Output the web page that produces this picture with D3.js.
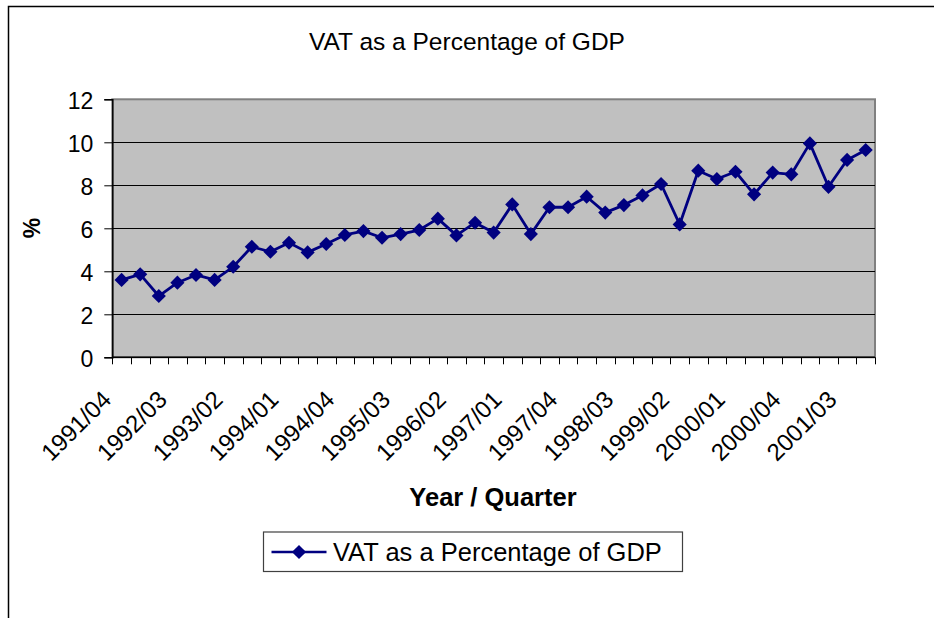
<!DOCTYPE html>
<html>
<head>
<meta charset="utf-8">
<script src="https://cdn.jsdelivr.net/npm/d3@7"></script>
<style>
  html, body { margin: 0; padding: 0; background: #fff; }
  svg { display: block; font-family: Arial, "Liberation Sans", sans-serif; }
</style>
</head>
<body>
<div id="chart"></div>
<script>
// quarters shown on the x axis
const quarters = [
  "1991/04",
  "1992/01", "1992/02", "1992/03", "1992/04",
  "1993/01", "1993/02", "1993/03", "1993/04",
  "1994/01", "1994/02", "1994/03", "1994/04",
  "1995/01", "1995/02", "1995/03", "1995/04",
  "1996/01", "1996/02", "1996/03", "1996/04",
  "1997/01", "1997/02", "1997/03", "1997/04",
  "1998/01", "1998/02", "1998/03", "1998/04",
  "1999/01", "1999/02", "1999/03", "1999/04",
  "2000/01", "2000/02", "2000/03", "2000/04",
  "2001/01", "2001/02", "2001/03", "2001/04"
];

// VAT as % of GDP
const vatPct = [
  3.60, 3.86, 2.85, 3.47, 3.83, 3.60, 4.21, 5.14, 4.91, 5.33,
  4.88, 5.27, 5.69, 5.87, 5.56, 5.73, 5.92, 6.45, 5.67, 6.26,
  5.80, 7.11, 5.73, 6.98, 6.98, 7.47, 6.73, 7.08, 7.53, 8.06,
  6.18, 8.68, 8.29, 8.63, 7.58, 8.59, 8.51, 9.95, 7.93, 9.18,
  9.64
];

// only every third quarter gets a label
const labelledQuarters = [
  "1991/04", "1992/03", "1993/02", "1994/01", "1994/04", "1995/03", "1996/02",
  "1997/01", "1997/04", "1998/03", "1999/02", "2000/01", "2000/04", "2001/03"
];

const yTicks = [0, 2, 4, 6, 8, 10, 12];

const seriesName = "VAT as a Percentage of GDP";
const navy = "#000080";

const width = 934, height = 618;
const plot = { left: 112.3, right: 875, top: 99.3, bottom: 357.3 };

const svg = d3.select("#chart").append("svg")
  .attr("width", width)
  .attr("height", height);

// outer chart frame (only top and left edges are visible)
svg.append("path")
  .attr("d", `M8.5,${height} L8.5,6.5 L${width},6.5`)
  .attr("fill", "none")
  .attr("stroke", "#000")
  .attr("stroke-width", 1.5);

const x = d3.scaleBand().domain(quarters).range([plot.left, plot.right]).padding(0);
const y = d3.scaleLinear().domain([0, 12]).range([plot.bottom, plot.top]);

// plot area
svg.append("rect")
  .attr("x", plot.left).attr("y", plot.top)
  .attr("width", plot.right - plot.left)
  .attr("height", plot.bottom - plot.top)
  .attr("fill", "#c0c0c0")
  .attr("stroke", "#808080")
  .attr("stroke-width", 2);

// gridlines
svg.append("g")
  .selectAll("line")
  .data(yTicks.filter(d => d > 0 && d < 12))
  .join("line")
  .attr("x1", plot.left).attr("x2", plot.right)
  .attr("y1", d => Math.round(y(d)) + 0.5).attr("y2", d => Math.round(y(d)) + 0.5)
  .attr("stroke", "#000")
  .attr("stroke-width", 1);

// y axis
const yAxis = svg.append("g")
  .attr("transform", `translate(${plot.left},0)`)
  .call(d3.axisLeft(y).tickValues(yTicks).tickSize(8).tickPadding(11).tickFormat(d3.format("d")));
yAxis.select(".domain").attr("stroke", "#000").attr("stroke-width", 1.5);
yAxis.selectAll(".tick line").attr("stroke", "#000");
yAxis.selectAll(".tick text")
  .attr("font-size", 23)
  .attr("font-family", "Arial, 'Liberation Sans', sans-serif")
  .attr("fill", "#000")
  .attr("dy", "0.38em");

// x axis: ticks at the category boundaries
const boundaries = quarters.map(q => x(q)).concat([x.range()[1]]);
svg.append("line")
  .attr("x1", plot.left).attr("x2", plot.right)
  .attr("y1", plot.bottom).attr("y2", plot.bottom)
  .attr("stroke", "#000").attr("stroke-width", 1.5);
svg.append("g")
  .selectAll("line")
  .data(boundaries)
  .join("line")
  .attr("x1", d => Math.round(d) + 0.5).attr("x2", d => Math.round(d) + 0.5)
  .attr("y1", plot.bottom).attr("y2", plot.bottom + 7)
  .attr("stroke", "#000");

// x labels, rotated 45 degrees
svg.append("g")
  .selectAll("text")
  .data(labelledQuarters)
  .join("text")
  .attr("transform", d => {
    const cx = x(d) + x.bandwidth() / 2;
    return `translate(${cx - 9},${401}) rotate(-45)`;
  })
  .attr("text-anchor", "end")
  .attr("font-size", 24)
  .attr("fill", "#000")
  .text(d => d);

// series line
const line = d3.line()
  .x((d, i) => x(quarters[i]) + x.bandwidth() / 2)
  .y(d => y(d));

svg.append("path")
  .datum(vatPct)
  .attr("d", line)
  .attr("fill", "none")
  .attr("stroke", navy)
  .attr("stroke-width", 2.8)
  .attr("stroke-linejoin", "round");

const diamond = d3.symbol().type(d3.symbolSquare).size(100);

svg.append("g")
  .selectAll("path")
  .data(vatPct)
  .join("path")
  .attr("d", diamond)
  .attr("transform", (d, i) => `translate(${x(quarters[i]) + x.bandwidth() / 2},${y(d)}) rotate(45)`)
  .attr("fill", navy);

// titles
svg.append("text")
  .attr("x", 467).attr("y", 50)
  .attr("text-anchor", "middle")
  .attr("font-size", 24.5)
  .attr("fill", "#000")
  .text(seriesName);

svg.append("text")
  .attr("transform", "translate(40,228) rotate(-90)")
  .attr("text-anchor", "middle")
  .attr("font-size", 23)
  .attr("font-weight", "bold")
  .attr("fill", "#000")
  .text("%");

svg.append("text")
  .attr("x", 493).attr("y", 506)
  .attr("text-anchor", "middle")
  .attr("font-size", 25.5)
  .attr("font-weight", "bold")
  .attr("fill", "#000")
  .text("Year / Quarter");

// legend
const legend = svg.append("g");
legend.append("rect")
  .attr("x", 263.5).attr("y", 532)
  .attr("width", 419).attr("height", 39.5)
  .attr("fill", "#fff")
  .attr("stroke", "#404040")
  .attr("stroke-width", 1.2);
legend.append("line")
  .attr("x1", 271.5).attr("x2", 326.5)
  .attr("y1", 552).attr("y2", 552)
  .attr("stroke", navy)
  .attr("stroke-width", 2.5);
legend.append("path")
  .attr("d", diamond)
  .attr("transform", "translate(299,552) rotate(45)")
  .attr("fill", navy);
legend.append("text")
  .attr("x", 333).attr("y", 561)
  .attr("font-size", 25.5)
  .attr("fill", "#000")
  .text(seriesName);
</script>
</body>
</html>
